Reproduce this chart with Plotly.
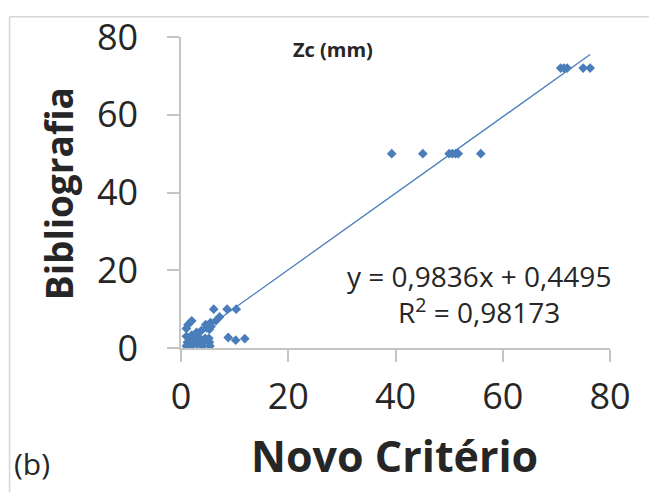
import plotly.graph_objects as go

# Zc (mm): new criterion (x) vs. bibliography (y)
novo_criterio = [
    70.8, 71.4, 72.0, 75.0, 76.3,
    39.3, 45.1, 50.0, 50.6, 51.2, 51.7, 55.9,
    6.1, 8.6, 10.3, 7.2, 6.5, 5.5, 5.2, 5.6, 4.8, 5.3, 4.6,
    2.0, 1.3, 1.0, 3.8, 2.9, 2.0, 1.0,
    1.5, 2.5, 3.5, 4.5, 5.2, 1.2, 2.2, 3.2, 4.2, 5.3,
    1.0, 2.0, 3.0, 4.0, 5.4,
    8.8, 10.2, 11.9,
]
bibliografia = [
    72, 72, 72, 72, 72,
    50, 50, 50, 50, 50, 50, 50,
    10, 10, 10, 8, 7, 6.5, 6, 5.5, 5.2, 4.8, 6,
    7, 6, 5, 4.5, 4, 3.3, 3,
    2.5, 2.5, 2.5, 2.5, 2.5, 1.5, 1.5, 1.8, 1.5, 1.5,
    0.5, 0.5, 1, 0.5, 0.5,
    2.7, 2, 2.4,
]

# linear trendline reported on the chart
slope = 0.9836
intercept = 0.4495
r_squared = "0,98173"

axis_ticks = [0, 20, 40, 60, 80]

blue = "#4a7ebb"
grey = "#c4c4c4"
text_col = "#262626"

x_min, x_max = min(novo_criterio), max(novo_criterio)
trend_x = [x_min, x_max]
trend_y = [slope * v + intercept for v in trend_x]

fig = go.Figure()
fig.add_trace(go.Scatter(
    x=trend_x, y=trend_y, mode="lines",
    line=dict(color=blue, width=1.3), hoverinfo="skip",
))
fig.add_trace(go.Scatter(
    x=novo_criterio, y=bibliografia, mode="markers",
    marker=dict(symbol="diamond", size=7.5, color=blue, line=dict(width=0)),
))

axis_common = dict(
    range=[0, 80], tickvals=axis_ticks, showgrid=False, zeroline=False,
    showline=True, linecolor=grey, linewidth=1.5,
    ticks="outside", tickcolor=grey, tickwidth=1.5, ticklen=12,
    tickfont=dict(family="Open Sans", size=36, color=text_col),
)
fig.update_xaxes(**axis_common, ticklabelstandoff=4)
fig.update_yaxes(**axis_common, ticklabelstandoff=22)

W, H = 649, 495
L, R, T, B = 180.5, 39.3, 31.7, 147.0
pw, ph = W - L - R, H - T - B


def px(xp, yp):
    """pixel position -> paper coordinates"""
    return (xp - L) / pw, (H - B - yp) / ph


annotations = []


def label(text, xp, yp, size, bold=False, angle=0):
    x, y = px(xp, yp)
    annotations.append(dict(
        text=f"<b>{text}</b>" if bold else text,
        x=x, y=y, xref="paper", yref="paper",
        xanchor="center", yanchor="middle", showarrow=False, textangle=angle,
        font=dict(family="Open Sans", size=size, color=text_col),
    ))


label("Novo Critério", 394, 457, 43, bold=True)
label("Bibliografia", 58, 191, 37, bold=True, angle=-90)
label("Zc (mm)", 333, 44, 20, bold=True)
label(f"y = 0,9836x + 0,4495<br>R<sup>2</sup> = {r_squared}", 479, 293, 28)
label("(b)", 31, 465, 30)

# outer frame: only the top and left edges fall inside the canvas
fx0, fy0 = px(9, 11)
fx1, _ = px(W, 11)
_, fy1 = px(9, H)
frame = dict(color="#d6d6d6", width=1.5)
fig.add_shape(type="line", xref="paper", yref="paper",
              x0=fx0, y0=fy0, x1=fx1, y1=fy0, line=frame, layer="below")
fig.add_shape(type="line", xref="paper", yref="paper",
              x0=fx0, y0=fy0, x1=fx0, y1=fy1, line=frame, layer="below")

fig.update_layout(
    width=W, height=H,
    margin=dict(l=L, r=R, t=T, b=B),
    paper_bgcolor="white", plot_bgcolor="white",
    showlegend=False, annotations=annotations,
)

fig.write_html("out.html")
